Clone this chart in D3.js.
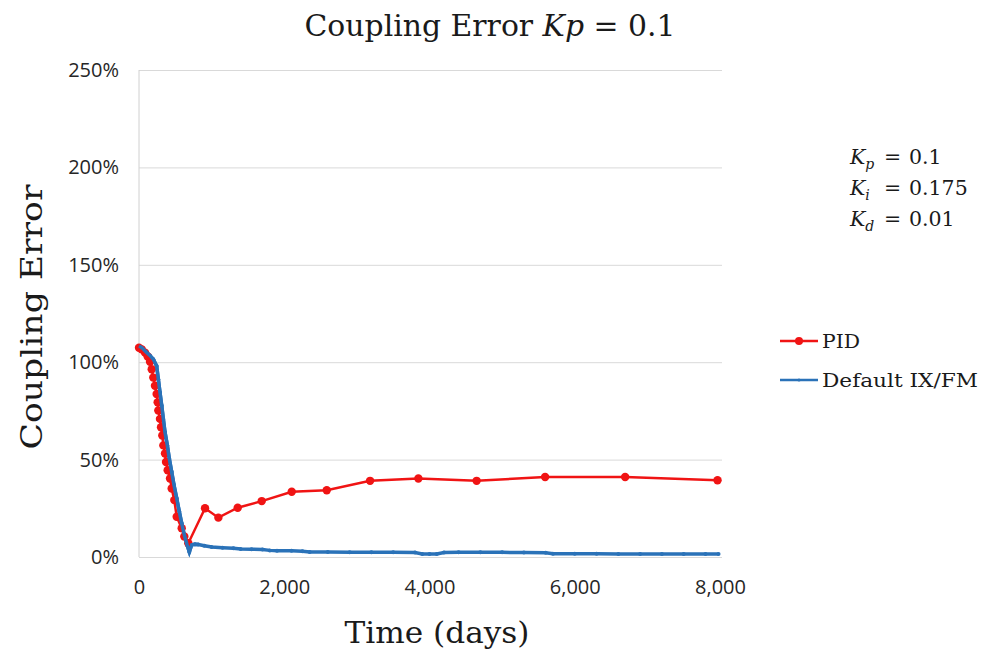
<!DOCTYPE html>
<html>
<head>
<meta charset="utf-8">
<script src="https://cdn.jsdelivr.net/npm/d3@7"></script>
<style>
  body { margin: 0; background: #fff; }
  svg { display: block; }
</style>
</head>
<body>
<svg></svg>
<script>
'use strict'

// PID run (days, coupling error %)
const pidDays = [0, 37, 83, 119, 152, 175, 197, 220, 243, 257, 266, 289, 303, 321, 335, 358, 372, 395, 427, 450, 486, 519, 588, 624, 679,
  909, 1093, 1359, 1690, 2103, 2585, 3182, 3847, 4649, 5592, 6694, 7966]
const pidVals = [107.4, 106.6, 104.9, 102.9, 100.2, 96.4, 92.1, 87.9, 83.7, 79.4, 75.2, 70.9, 66.6, 62.4, 57.3, 53.1, 48.8, 44.5, 40.3, 35.2, 29.2, 20.7, 14.8, 10.5, 7.1,
  25.0, 20.2, 25.3, 28.7, 33.5, 34.3, 39.1, 40.3, 39.1, 41.1, 41.1, 39.4]

// Default IX/FM run
const ixDays = [0, 40, 83, 150, 197, 243, 266, 289, 313, 335, 358, 390, 417, 450, 482, 519, 555, 588, 624, 661, 693, 726, 770, 817,
  900, 1000, 1150, 1300, 1400, 1550, 1700, 1800, 1900, 2100, 2250, 2350, 2600, 2900, 3200, 3500, 3800, 3900, 4000, 4100, 4200,
  4400, 4700, 5000, 5300, 5600, 5700, 6000, 6300, 6600, 6900, 7200, 7500, 7800, 7980]
const ixVals = [108.3, 107.5, 105.8, 103.5, 101.5, 98.1, 91.3, 84.5, 77.7, 70.9, 64.1, 57.3, 50.5, 43.7, 36.9, 30.1, 23.3, 17.3, 11.4, 6.3, 2.6, 6.3, 6.5, 6.4,
  5.8, 5.1, 4.8, 4.5, 4.1, 4.0, 3.8, 3.4, 3.2, 3.2, 3.0, 2.6, 2.6, 2.5, 2.5, 2.4, 2.3, 1.6, 1.5, 1.6, 2.3,
  2.4, 2.4, 2.4, 2.3, 2.2, 1.7, 1.7, 1.7, 1.6, 1.6, 1.6, 1.6, 1.6, 1.6]

const xTicks = [0, 2000, 4000, 6000, 8000]
const yTicks = [0, 50, 100, 150, 200, 250]

const seriesNames = ['PID', 'Default IX/FM']
const params = [['p', '0.1'], ['i', '0.175'], ['d', '0.01']]

const W = 982, H = 655
const margin = { top: 70, left: 139, right: 262, bottom: 98 }
const width = W - margin.left - margin.right
const height = H - margin.top - margin.bottom

const red = '#f01414', blue = '#2a72b8'
const serif = "'DejaVu Serif', serif"
const sans = "'Open Sans', sans-serif"
const ink = '#1a1a1a'

const svg = d3.select('svg').attr('width', W).attr('height', H)

const x = d3.scaleLinear().domain([0, 8000]).range([0, width])
const y = d3.scaleLinear().domain([0, 250]).range([height, 0])

const g = svg.append('g').attr('transform', 'translate(' + margin.left + ',' + margin.top + ')')

// gridlines + y labels
const yAxis = g.append('g')
  .call(d3.axisLeft(y).tickValues(yTicks).tickSize(-(width + 2)).tickPadding(20).tickFormat(d => d + '%'))
yAxis.select('.domain').remove()
yAxis.selectAll('line').attr('stroke', '#d9d9d9')
yAxis.selectAll('text').attr('font-family', sans).attr('font-size', 20).attr('fill', '#262626')

// left axis line
g.append('line').attr('x1', 0).attr('x2', 0).attr('y1', 0).attr('y2', height).attr('stroke', '#d0d0d0')

const xAxis = g.append('g')
  .attr('transform', 'translate(0,' + height + ')')
  .call(d3.axisBottom(x).tickValues(xTicks).tickSize(0).tickPadding(23).tickFormat(d3.format(',')))
xAxis.select('.domain').remove()
xAxis.selectAll('text').attr('font-family', sans).attr('font-size', 20).attr('fill', '#262626')

const pid = pidDays.map((d, i) => ({ day: d, val: pidVals[i] }))
const ix = ixDays.map((d, i) => ({ day: d, val: ixVals[i] }))

const line = d3.line().x(d => x(d.day)).y(d => y(d.val))

// blue series
g.append('path').datum(ix)
  .attr('d', line).attr('fill', 'none').attr('stroke', blue).attr('stroke-width', 3.5)
g.selectAll('.ixdot').data(ix).enter().append('circle')
  .attr('class', 'ixdot').attr('cx', d => x(d.day)).attr('cy', d => y(d.val)).attr('r', 2).attr('fill', blue)

// red series
g.append('path').datum(pid)
  .attr('d', line).attr('fill', 'none').attr('stroke', red).attr('stroke-width', 2.5)
g.selectAll('.piddot').data(pid).enter().append('circle')
  .attr('class', 'piddot').attr('cx', d => x(d.day)).attr('cy', d => y(d.val)).attr('r', 4.2).attr('fill', red)

// the blue curve sits on top of the red one in the steep part
g.append('path').datum(ix.filter(d => d.day < 820))
  .attr('d', line).attr('fill', 'none').attr('stroke', blue).attr('stroke-width', 3.5)

function fit(sel, len) {
  return sel.attr('textLength', len).attr('lengthAdjust', 'spacingAndGlyphs')
}

// title
const title = svg.append('text').attr('x', 490).attr('y', 36).attr('text-anchor', 'middle')
  .attr('font-family', serif).attr('font-size', 30).attr('fill', ink)
title.append('tspan').text('Coupling Error ')
title.append('tspan').attr('font-style', 'italic').text('Kp')
title.append('tspan').text(' = 0.1')
fit(title, 371)

// axis titles
fit(svg.append('text').attr('x', 437).attr('y', 643).attr('text-anchor', 'middle')
  .attr('font-family', serif).attr('font-size', 30).attr('fill', ink).text('Time (days)'), 185)
fit(svg.append('text').attr('transform', 'translate(42,317) rotate(-90)').attr('text-anchor', 'middle')
  .attr('font-family', serif).attr('font-size', 30).attr('fill', ink).text('Coupling Error'), 265)

// parameter note
params.forEach((p, i) => {
  const yy = 164 + i * 31
  const t = svg.append('text').attr('x', 850).attr('y', yy)
    .attr('font-family', serif).attr('font-size', 20.5).attr('fill', ink)
  t.append('tspan').attr('font-style', 'italic').text('K')
  t.append('tspan').attr('font-style', 'italic').attr('font-size', 14).attr('dy', 5).text(p[0])
  svg.append('text').attr('x', 884).attr('y', yy).attr('font-family', serif).attr('font-size', 20.5)
    .attr('fill', ink).text('=')
  svg.append('text').attr('x', 909).attr('y', yy).attr('font-family', serif).attr('font-size', 20.5)
    .attr('fill', ink).text(p[1])
})

// legend
const legend = svg.append('g').attr('transform', 'translate(780,341)')
seriesNames.forEach((name, i) => {
  const row = legend.append('g').attr('transform', 'translate(0,' + i * 39 + ')')
  row.append('line').attr('x1', 0).attr('x2', 38).attr('y1', 0).attr('y2', 0)
    .attr('stroke', i === 0 ? red : blue).attr('stroke-width', 2.5)
  row.append('circle').attr('cx', 19).attr('cy', 0).attr('r', i === 0 ? 4 : 1.5).attr('fill', i === 0 ? red : blue)
  fit(row.append('text').attr('x', 42).attr('y', 7).attr('font-family', serif).attr('font-size', 18)
    .attr('fill', ink).text(name), i === 0 ? 38 : 156)
})
</script>
</body>
</html>
